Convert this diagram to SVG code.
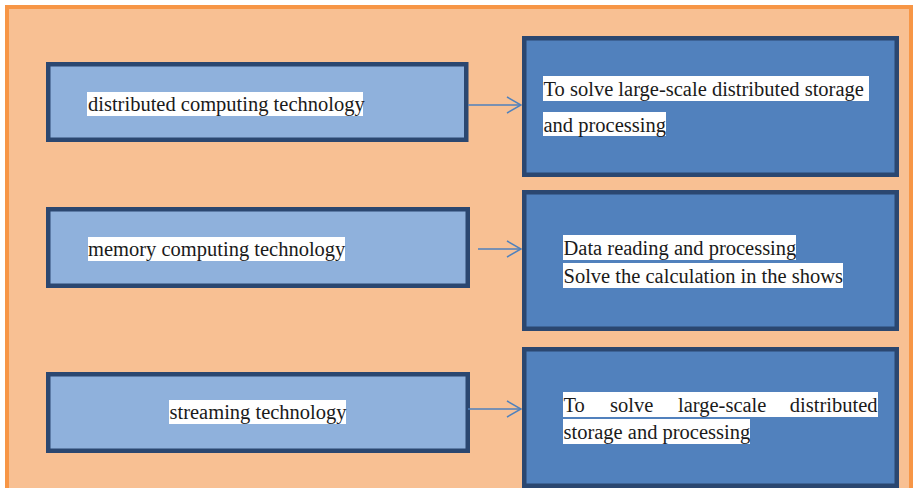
<svg xmlns="http://www.w3.org/2000/svg" width="914" height="488" viewBox="0 0 914 488">
  <style>
    .frame { fill: #F8C093; stroke: #F79646; stroke-width: 4; }
    .tech { fill: #8FB1DC; stroke: #2B4770; stroke-width: 4.5; }
    .goal { fill: #5181BD; stroke: #2B4770; stroke-width: 4.5; }
    .bg { fill: #FFFFFF; }
    .lbl { font-family: "Liberation Serif", "Times New Roman", serif; font-size: 20.5px; fill: #1A1A1A; }
    .link { stroke: #4F81BD; stroke-width: 1.5; fill: none; }
  </style>
  <defs>
    <marker id="chev" viewBox="0 0 16 18" refX="15" refY="9" markerWidth="16" markerHeight="18" markerUnits="userSpaceOnUse" orient="auto">
      <path d="M1,1 L15,9 L1,17" fill="none" stroke="#4F81BD" stroke-width="1.5"/>
    </marker>
  </defs>

  <!-- outer frame -->
  <rect class="frame" x="7" y="7" width="904" height="486"/>

  <g id="tech-distributed">
    <rect class="tech" x="48.25" y="64.25" width="418" height="75.5"/>
    <rect class="bg" x="87" y="92" width="276" height="24"/>
    <text class="lbl" x="88" y="111">distributed computing technology</text>
  </g>

  <g id="tech-memory">
    <rect class="tech" x="48.25" y="209.25" width="419.5" height="76.5"/>
    <rect class="bg" x="88" y="237" width="257" height="24"/>
    <text class="lbl" x="88" y="256">memory computing technology</text>
  </g>

  <g id="tech-streaming">
    <rect class="tech" x="48.25" y="374.25" width="419.5" height="76.5"/>
    <rect class="bg" x="169" y="400" width="177" height="24"/>
    <text class="lbl" x="169.5" y="419">streaming technology</text>
  </g>

  <g id="goal-storage">
    <rect class="goal" x="524.25" y="38.25" width="372.5" height="136.5"/>
    <rect class="bg" x="543" y="76" width="326" height="25"/>
    <rect class="bg" x="543" y="112" width="123" height="24"/>
    <text class="lbl" x="543.5" y="96">To solve large-scale distributed storage</text>
    <text class="lbl" x="543.5" y="132">and processing</text>
  </g>

  <g id="goal-memory">
    <rect class="goal" x="524.25" y="192.25" width="372.5" height="136.5"/>
    <rect class="bg" x="563" y="235" width="233" height="25"/>
    <rect class="bg" x="563" y="263" width="280" height="25"/>
    <text class="lbl" x="563.5" y="255">Data reading and processing</text>
    <text class="lbl" x="563.5" y="283">Solve the calculation in the shows</text>
  </g>

  <g id="goal-streaming">
    <rect class="goal" x="524.25" y="349.25" width="372.5" height="136.5"/>
    <rect class="bg" x="563" y="392" width="315" height="25"/>
    <rect class="bg" x="563" y="419" width="187" height="25"/>
    <text class="lbl" y="412"><tspan x="563.5">To</tspan><tspan x="610">solve</tspan><tspan x="678">large-scale</tspan><tspan x="877.5" text-anchor="end">distributed</tspan></text>
    <text class="lbl" x="563.5" y="439">storage and processing</text>
  </g>

  <g id="connectors">
    <line class="link" x1="468" y1="105" x2="521" y2="105" marker-end="url(#chev)"/>
    <line class="link" x1="478" y1="249" x2="521" y2="249" marker-end="url(#chev)"/>
    <line class="link" x1="468" y1="409" x2="521" y2="409" marker-end="url(#chev)"/>
  </g>
</svg>
